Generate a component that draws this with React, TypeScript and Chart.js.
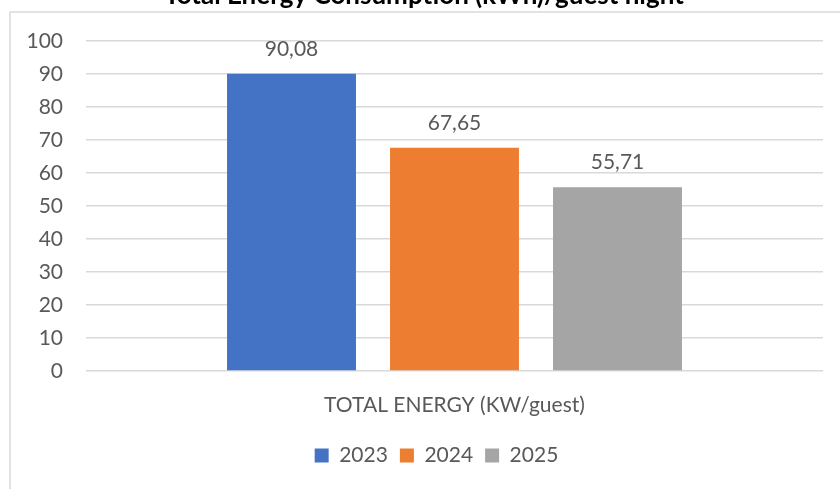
import React, { useEffect, useRef } from "react";
import { Chart, registerables } from "chart.js";

Chart.register(...registerables);

const categories = ["TOTAL ENERGY (KW/guest)"];
const seriesNames = ["2023", "2024", "2025"];
const values2023 = [90.08];
const values2024 = [67.65];
const values2025 = [55.71];
const seriesColors = ["#4472C4", "#ED7D31", "#A5A5A5"];
const titleText = "Total Energy Consumption (kWh)/guest night";

const FONT = "Lato, 'Open Sans', sans-serif";
const TEXT = "#595959";

const framePlugin = {
  id: "frameAndTitle",
  afterLayout(chart: any) {
    if (chart.legend) {
      chart.legend.left += 25;
      chart.legend.right += 25;
    }
  },
  beforeDraw(chart: any) {
    const ctx = chart.ctx;
    ctx.save();
    ctx.fillStyle = "#ffffff";
    ctx.fillRect(0, 0, chart.width, chart.height);
    ctx.strokeStyle = "#d9d9d9";
    ctx.lineWidth = 1.5;
    ctx.beginPath();
    ctx.moveTo(10, chart.height);
    ctx.lineTo(10, 12);
    ctx.lineTo(chart.width, 12);
    ctx.stroke();
    ctx.fillStyle = "#000000";
    ctx.font = `bold 26px ${FONT}`;
    ctx.textAlign = "center";
    ctx.textBaseline = "alphabetic";
    ctx.fillText(titleText, 424, 4);
    ctx.restore();
  },
};

const labelPlugin = {
  id: "valueLabels",
  afterDatasetsDraw(chart: any) {
    const ctx = chart.ctx;
    ctx.save();
    ctx.fillStyle = TEXT;
    ctx.font = `21px ${FONT}`;
    ctx.textAlign = "center";
    ctx.textBaseline = "alphabetic";
    chart.data.datasets.forEach((ds: any, i: number) => {
      const meta = chart.getDatasetMeta(i);
      meta.data.forEach((bar: any, j: number) => {
        const v = ds.data[j] as number;
        ctx.fillText(v.toFixed(2).replace(".", ","), bar.x, bar.y - 18);
      });
    });
    ctx.restore();
  },
};

export default function App() {
  const ref = useRef<HTMLCanvasElement | null>(null);
  useEffect(() => {
    if (!ref.current) return;
    const data = [values2023, values2024, values2025];
    const chart = new Chart(ref.current, {
      type: "bar",
      data: {
        labels: categories,
        datasets: seriesNames.map((n, i) => ({
          label: n,
          data: data[i],
          backgroundColor: seriesColors[i],
          borderWidth: 0,
          categoryPercentage: 0.6635,
          barPercentage: 0.791,
        })),
      },
      options: {
        animation: false,
        responsive: false,
        devicePixelRatio: 1,
        layout: { padding: { top: 41, right: 17, left: 0, bottom: 13 } },
        plugins: {
          legend: {
            position: "bottom",
            labels: {
              boxWidth: 14,
              boxHeight: 14,
              padding: 12,
              color: TEXT,
              font: { family: FONT, size: 21 },
            },
          },
          tooltip: { enabled: false },
          title: { display: false },
        },
        scales: {
          x: {
            grid: { display: false },
            border: { display: false },
            ticks: { color: TEXT, font: { family: FONT, size: 21 }, padding: 14 },
            afterFit: (s: any) => {
              s.height = 62;
            },
          },
          y: {
            min: 0,
            max: 100,
            ticks: { stepSize: 10, color: TEXT, font: { family: FONT, size: 21 }, padding: 23 },
            grid: { color: "#d9d9d9", lineWidth: 1.5, drawTicks: false },
            border: { display: false },
            afterFit: (s: any) => {
              s.width = 86;
            },
          },
        },
      },
      plugins: [framePlugin, labelPlugin],
    });
    return () => chart.destroy();
  }, []);
  return (
    <div style={{ position: "fixed", left: 0, top: 0, width: 840, height: 489, background: "#fff" }}>
      <canvas ref={ref} width={840} height={489} style={{ display: "block", width: 840, height: 489 }} />
    </div>
  );
}
